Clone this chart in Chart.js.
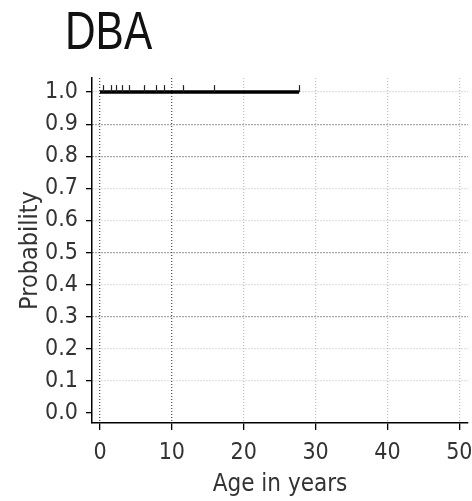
<!DOCTYPE html>
<html>
<head>
<meta charset="utf-8">
<script src="https://cdn.jsdelivr.net/npm/chart.js@4.4.1/dist/chart.umd.min.js"></script>
<style>
  html, body { margin: 0; padding: 0; background: #fff; }
  #wrap { position: relative; width: 472px; height: 501px; }
  #titulo {
    position: absolute; left: 65px; top: 4px;
    font: 53px/53px 'Liberation Sans', Arial, sans-serif;
    color: #111;
    transform: scaleX(0.8);
    transform-origin: left top;
  }
</style>
</head>
<body>
<div id="wrap">
  <div id="titulo">DBA</div>
  <canvas id="chart_km"></canvas>
</div>
<script>
// curva de supervivencia (Kaplan-Meier), grupo DBA
let tiempos = [0, 27.7];
let prob = [1.0, 1.0];
// observaciones censuradas (marcas verticales sobre la curva)
let censurados = [0.46, 1.5, 2.2, 3.0, 4.1, 6.1, 7.8, 8.9, 11.5, 15.8, 27.7];
let ticksX = [0, 10, 20, 30, 40, 50];
let ticksY = [0.0, 0.1, 0.2, 0.3, 0.4, 0.5, 0.6, 0.7, 0.8, 0.9, 1.0];

let fuente = "'DejaVu Sans Condensed', 'Liberation Sans', sans-serif";

let
    datos = {
        datasets: [
            {
                label: 'DBA',
                data: tiempos.map((t, i) => ({x: t, y: prob[i]})),
                borderColor: '#000',
                borderWidth: 3.5,
                stepped: true,
                fill: false,
                pointRadius: 0,
            }
        ]};

let marcasCensura = {
    id: 'marcasCensura',
    afterDatasetsDraw(chart) {
        let c = chart.ctx, sx = chart.scales.x, sy = chart.scales.y;
        c.save();
        c.strokeStyle = '#222';
        c.lineWidth = 1.2;
        censurados.forEach(t => {
            let i = tiempos.findIndex(v => v > t);
            let p = i < 0 ? prob[prob.length - 1] : prob[Math.max(i - 1, 0)];
            let x = Math.round(sx.getPixelForValue(t)) + 0.5;
            let y = sy.getPixelForValue(p);
            c.beginPath();
            c.moveTo(x, y);
            c.lineTo(x, y - 7);
            c.stroke();
        });
        c.restore();
    }
};

let oscuraX = [0, 10];
let oscuraY = [0.9, 0.8, 0.5, 0.3];

let
    opciones = {
        responsive: true,
        maintainAspectRatio: false,
        animation: false,
        layout: {padding: {top: 78, right: 4, bottom: 0, left: 0}},
        scales: {
            x: {
                type: 'linear',
                min: -1.11,
                max: 51.2,
                afterBuildTicks: s => { s.ticks = ticksX.map(v => ({value: v})); },
                afterFit: s => { s.height = 78; s.paddingLeft = 0; s.paddingRight = 0; },
                ticks: {color: '#333', font: {family: fuente, size: 23}, padding: 9},
                grid: {
                    color: c => oscuraX.includes(c.tick && c.tick.value) ? '#555' : '#c4c4c4',
                    lineWidth: 1.3,
                    tickColor: '#000',
                    tickLength: 7,
                },
                border: {color: '#000', width: 1.5, dash: [1, 2]},
                title: {display: true, text: 'Age in years', color: '#333',
                    font: {family: fuente, size: 24}, padding: {top: 0, bottom: 2}},
            },
            y: {
                type: 'linear',
                min: -0.031,
                max: 1.044,
                afterBuildTicks: s => { s.ticks = ticksY.map(v => ({value: v})); },
                afterFit: s => { s.width = 92; },
                ticks: {color: '#333', font: {family: fuente, size: 23}, padding: 8,
                    callback: v => v.toFixed(1)},
                grid: {
                    color: c => {
                        let v = c.tick ? Math.round(c.tick.value * 10) / 10 : -1;
                        if (v === 0) return 'rgba(0,0,0,0)';
                        return oscuraY.includes(v) ? '#555' : '#c4c4c4';
                    },
                    lineWidth: 1.3,
                    tickColor: '#000',
                    tickLength: 6,
                },
                border: {color: '#000', width: 1.5, dash: [1, 2]},
                title: {display: true, text: 'Probability', color: '#333',
                    font: {family: fuente, size: 25}, padding: {top: 15, bottom: 0}},
            }
        },
        plugins: {
            legend: false,
            title: {display: false},
            tooltip: {enabled: false}
        },
    };

let ctx = document.getElementById('chart_km');
let km = new Chart(
    ctx, {
        type: 'line',
        data: datos,
        options: opciones,
        plugins: [marcasCensura]
    });
</script>
</body>
</html>
